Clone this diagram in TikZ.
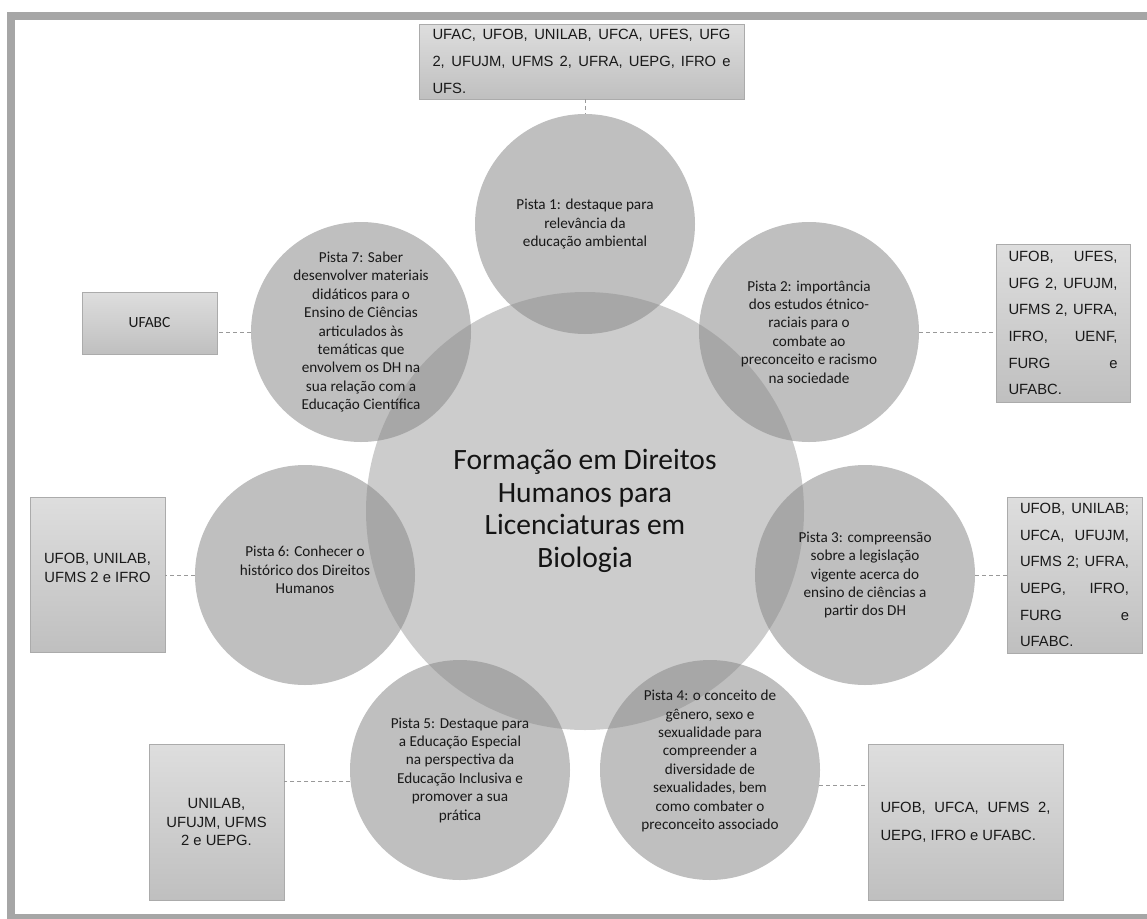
\documentclass[tikz,border=0pt]{standalone}
\usepackage{fontspec}
\setmainfont{Carlito}
\newfontfamily\arialfont{Liberation Sans}
\usetikzlibrary{positioning}

\tikzset{
  pista/.style={circle, minimum size=220pt, inner sep=0pt, fill=black!46, opacity=0.55},
  pistatext/.style={align=center, text=black!90, font=\fontsize{15.2}{18.4}\selectfont},
  ufbox/.style={rectangle, draw=black!33, top color=black!13, bottom color=black!25, inner sep=0pt, text=black!90},
  ufjust/.style={ufbox, align=justify, font=\arialfont\fontsize{14.8}{26.7}\selectfont,
    execute at begin node={\tolerance=10000\relax\hyphenpenalty=10000\relax}},
  ufcent/.style={ufbox, align=center, font=\arialfont\fontsize{14.8}{18.8}\selectfont},
  link/.style={draw=black!40, dash pattern=on 4pt off 3pt, line width=0.7pt}
}

\begin{document}
\begin{tikzpicture}[x=1pt,y=-1pt]

\useasboundingbox (0,0) rectangle (1147,918);
\clip (0,0) rectangle (1147,918);
\draw[line width=8pt, black!35] (11,15.5) rectangle (1156,917.5);

% circles
\coordinate (p0) at (585,511) ;\coordinate (p1) at (585,224) ;\coordinate (p2) at (809,332);
\coordinate (p3) at (865,575) ;\coordinate (p4) at (710,770) ;\coordinate (p5) at (460,770);
\coordinate (p6) at (305,575) ;\coordinate (p7) at (361,332);

\node[circle, minimum size=438pt, inner sep=0pt, fill=black!20] (c0) at (p0) {};
\foreach \i in {1,...,7} { \node[pista] (c\i) at (p\i) {}; }

\node[pistatext, font=\fontsize{29.5}{32.5}\selectfont, text=black!92] (t0) at (p0) {Formação em Direitos\\Humanos para\\Licenciaturas em\\Biologia};
\node[pistatext] (t1) at (p1) {Pista 1: destaque para\\relevância da\\educação ambiental};
\node[pistatext] (t2) at (p2) {Pista 2: importância\\dos estudos étnico-\\raciais para o\\combate ao\\preconceito e racismo\\na sociedade};
\node[pistatext] (t3) at (p3) {Pista 3: compreensão\\sobre a legislação\\vigente acerca do\\ensino de ciências a\\partir dos DH};
\node[pistatext] (t4) at ([yshift=9]p4) {Pista 4: o conceito de\\gênero, sexo e\\sexualidade para\\compreender a\\diversidade de\\sexualidades, bem\\como combater o\\preconceito associado};
\node[pistatext] (t5) at (p5) {Pista 5: Destaque para\\a Educação Especial\\na perspectiva da\\Educação Inclusiva e\\promover a sua\\prática};
\node[pistatext] (t6) at ([yshift=5]p6) {Pista 6: Conhecer o\\histórico dos Direitos\\Humanos};
\node[pistatext] (t7) at (p7) {Pista 7: Saber\\desenvolver materiais\\didáticos para o\\Ensino de Ciências\\articulados às\\temáticas que\\envolvem os DH na\\sua relação com a\\Educação Científica};

% boxes
\node[ufjust, minimum width=325pt, minimum height=75pt, text width=298pt] (b1) at (581.5,61.5)
  {UFAC, UFOB, UNILAB, UFCA, UFES, UFG\linebreak 2, UFUJM, UFMS 2, UFRA, UEPG, IFRO e\linebreak UFS.};
\node[ufjust, minimum width=134pt, minimum height=158pt, text width=109pt] (b2) at (1063,323)
  {UFOB, UFES,\linebreak UFG 2, UFUJM,\linebreak UFMS 2, UFRA,\linebreak IFRO, UENF,\linebreak FURG e\linebreak UFABC.};
\node[ufjust, minimum width=135pt, minimum height=156pt, text width=109pt] (b3) at (1074.5,575)
  {UFOB, UNILAB;\linebreak UFCA, UFUJM,\linebreak UFMS 2; UFRA,\linebreak UEPG, IFRO,\linebreak FURG e\linebreak UFABC.};
\node[ufjust, font=\arialfont\fontsize{14.8}{28}\selectfont, minimum width=195pt, minimum height=156pt, text width=170pt] (b4) at (965.5,822)
  {UFOB, UFCA, UFMS 2,\linebreak UEPG, IFRO e UFABC.};
\node[ufcent, minimum width=135pt, minimum height=156pt] (b5) at (216.5,822) {UNILAB,\\UFUJM, UFMS\\2 e UEPG.};
\node[ufcent, minimum width=135pt, minimum height=155pt] (b6) at (97.5,574.5) {};
\node[align=center, text=black!90, font=\arialfont\fontsize{14.8}{18.8}\selectfont] (b6t) at ([yshift=7]b6) {UFOB, UNILAB,\\UFMS 2 e IFRO};
\node[ufbox, font=\fontsize{15.5}{18}\selectfont, minimum width=135pt, minimum height=62pt] (b7) at (149.5,323) {UFABC};

% connectors
\draw[link] (c1.north |- b1.south) -- (c1.north);
\draw[link] (c2.east) -- (c2.east -| b2.west);
\draw[link] (c3.east) -- (c3.east -| b3.west);
\draw[link] (c4.-8) -- (c4.-8 -| b4.west);
\draw[link] (c5.186) -- (c5.186 -| b5.east);
\draw[link] (c6.west) -- (c6.west -| b6.east);
\draw[link] (c7.west) -- (c7.west -| b7.east);

\end{tikzpicture}
\end{document}
